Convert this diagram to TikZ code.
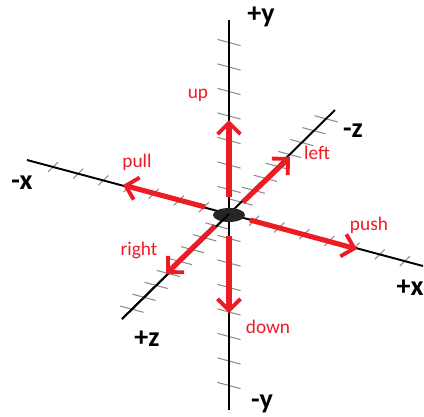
\documentclass[tikz,border=0pt]{standalone}
\usepackage{fontspec}
\setmainfont{Carlito}
\usepackage{tikz}
\usetikzlibrary{arrows.meta, positioning, calc}
\definecolor{movered}{RGB}{237,28,36}

\begin{document}
\begin{tikzpicture}[x=0.02cm, y=-0.02cm,
    axis/.style={line width=1.1pt, black},
    tick/.style={line width=0.6pt, black!45},
    move/.style={line width=2.9pt, movered, -{Straight Barb[length=6.5pt, width=13pt, line width=2.2pt]}},
    axlabel/.style={font=\fontsize{16}{16}\selectfont\bfseries, inner sep=0pt},
    movelabel/.style={font=\fontsize{11}{11}\selectfont, text=movered, inner sep=0pt}]
  \useasboundingbox (0,0) rectangle (424,417);
  % axes
  \coordinate (O) at (229,214);
  \coordinate (ypos) at (229,20);
  \coordinate (yneg) at (229,410);
  \coordinate (xneg) at (27,160);
  \coordinate (xpos) at (423,266);
  \coordinate (zpos) at (122,319);
  \coordinate (zneg) at (335,110);
  % ticks
  \foreach \k in {-7,...,-1,1,2,...,7}
    \draw[tick] ({229-12*0.966},{214+\k*24.5-12*0.259}) -- ({229+12*0.966},{214+\k*24.5+12*0.259});
  \foreach \k in {-7,...,-1,1,2,...,7}
    \draw[tick] ({229+\k*26*0.966-7*0.714},{214+\k*26*0.259+7*0.7}) -- ({229+\k*26*0.966+7*0.714},{214+\k*26*0.259-7*0.7});
  \foreach \k in {-8,...,-1,1,2,...,8}
    \draw[tick] ({229+\k*17*0.714-12*0.966},{214-\k*17*0.7-12*0.259}) -- ({229+\k*17*0.714+12*0.966},{214-\k*17*0.7+12*0.259});
  \draw[axis] (ypos) -- (yneg);
  \draw[axis] (xneg) -- (xpos);
  \draw[axis] (zpos) -- (zneg);
  \fill[black!85] (229,215) ellipse (16 and 7);
  \draw[axis] (O) -- (zpos);
  % moves
  \coordinate (upS) at (229,197);   \coordinate (upE) at (229,120);
  \coordinate (downS) at (229,236); \coordinate (downE) at (229,313);
  \coordinate (pullS) at (205,207); \coordinate (pullE) at (123,185);
  \coordinate (pushS) at (250,220); \coordinate (pushE) at (357,249);
  \coordinate (leftS) at (243,202); \coordinate (leftE) at (290,157);
  \coordinate (rightS) at (215,226); \coordinate (rightE) at (166,274);
  \draw[move] (upS) -- (upE);
  \draw[move] (downS) -- (downE);
  \draw[move] (pullS) -- (pullE);
  \draw[move] (pushS) -- (pushE);
  \draw[move] (leftS) -- (leftE);
  \draw[move] (rightS) -- (rightE);
  % labels
  \node[axlabel] (ly1) at (261,17) {+y};
  \node[axlabel] (ly2) at (262,404) {-y};
  \node[axlabel] (lx1) at (410,288) {+x};
  \node[axlabel] (lx2) at (22,183) {-x};
  \node[axlabel] (lz1) at (353,131) {-z};
  \node[axlabel] (lz2) at (147,339) {+z};
  \node[movelabel] (lup) at (198,95) {up};
  \node[movelabel] (lpull) at (137,162) {pull};
  \node[movelabel] (lleft) at (317,153) {left};
  \node[movelabel] (lpush) at (369,225) {push};
  \node[movelabel] (lright) at (139,250) {right};
  \node[movelabel] (ldown) at (268,327) {down};
\end{tikzpicture}
\end{document}
